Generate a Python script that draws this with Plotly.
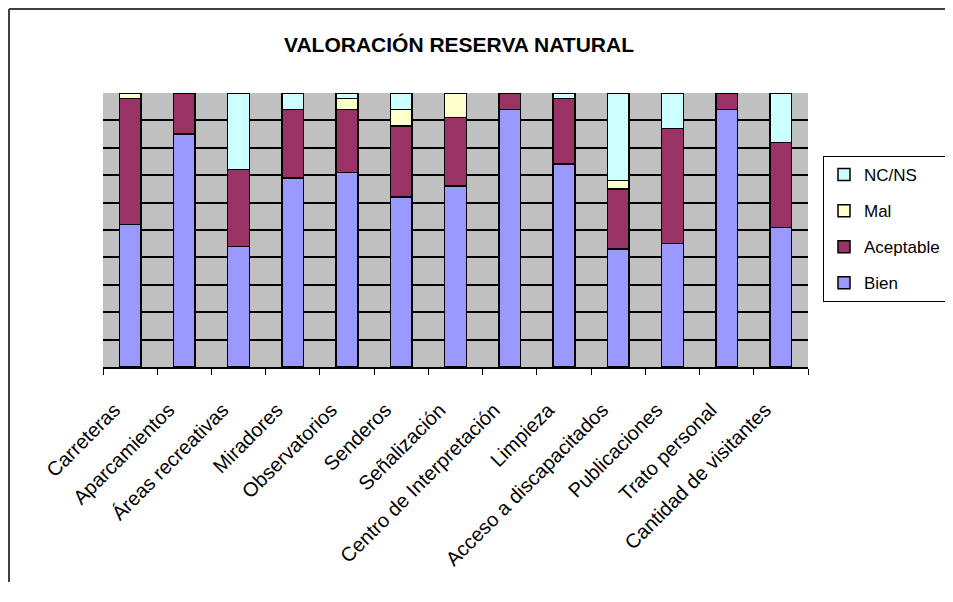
import plotly.graph_objects as go

categorias = ["Carreteras", "Aparcamientos", "Áreas recreativas", "Miradores", "Observatorios",
              "Senderos", "Señalización", "Centro de Interpretación", "Limpieza",
              "Acceso a discapacitados", "Publicaciones", "Trato personal", "Cantidad de visitantes"]
bien       = [52, 85, 44, 69, 71, 62, 66, 94, 74, 43, 45, 94, 51]
aceptable  = [46, 15, 28, 25, 23, 26, 25, 6, 24, 22, 42, 6, 31]
mal        = [2, 0, 0, 0, 4, 6, 9, 0, 0, 3, 0, 0, 0]
nc_ns      = [0, 0, 28, 6, 2, 6, 0, 0, 2, 32, 13, 0, 18]

series = [("Bien", bien, "#9999FF", 4), ("Aceptable", aceptable, "#993366", 3),
          ("Mal", mal, "#FFFFCC", 2), ("NC/NS", nc_ns, "#CCFFFF", 1)]

fig = go.Figure()
for name, vals, col, rank in series:
    fig.add_trace(go.Bar(x=categorias, y=vals, name=name, legendgroup=name, legendrank=rank,
                         marker=dict(color=col, line=dict(color="black", width=1.5))))

OFF = 8  # default page body margin
W, H = 953 - 2 * OFF, 602 - 2 * OFF - 12
L, T = 103 - OFF, 93 - OFF
PR, PB = 808 - OFF, 367 - OFF
R, B = W - PR, H - PB
pw, ph = W - L - R, H - T - B

def px(x):
    return (x - OFF - L) / pw

def py(y):
    return (PB - (y - OFF)) / ph

frame = dict(color="#404040", width=2)
fig.update_layout(
    width=W, height=H,
    margin=dict(l=L, r=R, t=T, b=B, autoexpand=False),
    barmode="stack", bargap=0.6,
    paper_bgcolor="white", plot_bgcolor="#C0C0C0",
    font=dict(family="Liberation Sans, Arial, sans-serif", color="black"),
    title=dict(text="<b>VALORACIÓN RESERVA NATURAL</b>", font=dict(size=21, color="black"),
               xref="paper", x=px(459), xanchor="center",
               yref="container", y=1 - (45 - OFF) / H, yanchor="middle"),
    legend=dict(x=px(823), y=py(156), xanchor="left", yanchor="top",
                traceorder="grouped", tracegroupgap=11,
                bordercolor="black", borderwidth=1, bgcolor="white",
                font=dict(size=17, color="black")),
    showlegend=True,
    shapes=[dict(type="line", xref="paper", yref="paper", x0=px(9), x1=px(9), y0=-1.0, y1=py(9),
                 line=frame, layer="below"),
            dict(type="line", xref="paper", yref="paper", x0=px(9), x1=px(1000), y0=py(9), y1=py(9),
                 line=frame, layer="below")],
)
ticktext = [c + "\u00a0\u00a0\u00a0\u00a0" for c in categorias]
fig.update_xaxes(tickangle=-45, tickson="boundaries", ticks="outside", ticklen=6,
                 tickcolor="black", showline=True, linecolor="black", linewidth=1.5,
                 tickmode="array", tickvals=categorias, ticktext=ticktext,
                 ticklabelstandoff=6,
                 tickfont=dict(size=20, color="black"), showgrid=False)
fig.update_yaxes(range=[0, 100], dtick=10, showticklabels=False, showgrid=True,
                 gridcolor="black", gridwidth=1.5, zeroline=False, showline=False, ticks="")

fig.write_html("out.html")
